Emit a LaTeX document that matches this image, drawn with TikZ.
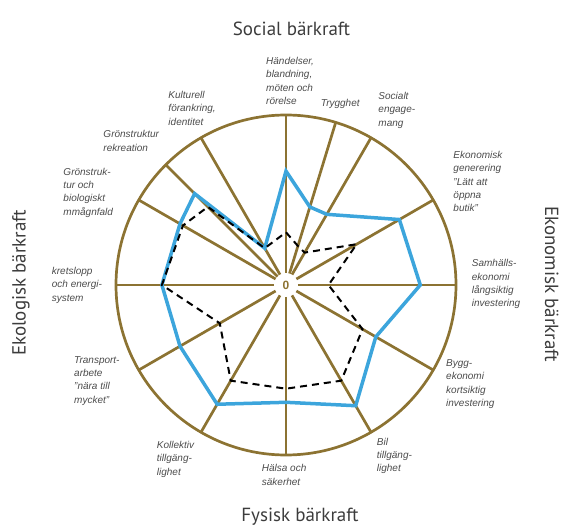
\documentclass[tikz,border=0pt]{standalone}
\usepackage{fontspec}
\setmainfont{Liberation Sans}
\newfontfamily\titelfont{PT Sans}
\definecolor{braun}{RGB}{140,115,50}
\definecolor{blau}{RGB}{60,165,220}
\definecolor{textgrau}{RGB}{75,75,75}

\begin{document}
\begin{tikzpicture}[x=1pt,y=1pt,
	speiche/.style={color=braun,line width=2.7pt},
	wert/.style={color=blau,line width=3.5pt,line join=miter},
	vergleich/.style={color=black,line width=2pt,dash pattern=on 7pt off 5pt},
	merkmal/.style={anchor=north west,inner sep=0pt,align=left,text=textgrau,font=\fontsize{10}{13.3}\selectfont\itshape},
	titel/.style={inner sep=0pt,text=textgrau!80!black,font=\titelfont\fontsize{19}{22}\selectfont}]
	\useasboundingbox (-286,-242) rectangle (277,285);
	% Kreis und Speichen zeichnen
	\draw[speiche] (0,0) circle (170);
	\foreach \w in {90,73,60,30,0,-30,-60,-90,-120,-150,180,150,135,120}
		\draw[speiche] (\w:12) -- (\w:170);
	\node[text=braun,font=\bfseries\fontsize{12}{14}\selectfont] (null) at (0,0) {0};
	% Bewertung zeichnen
	\draw[wert] (90:113.9) -- (73:81.6) -- (60:81.6) -- (30:130.9) -- (0:134.3) -- (-30:103.7) -- (-60:139.4)
		-- (-90:117.3) -- (-120:137.7) -- (-150:122.4) -- (180:124.1) -- (150:122.4) -- (135:129.2) -- (120:42.5) -- cycle;
	\draw[vergleich] (90:52.7) -- (73:40.8) -- (60:37.4) -- (30:81.6) -- (0:42.5) -- (-30:88.4) -- (-60:110.5)
		-- (-90:103.7) -- (-120:110.5) -- (-150:76.5) -- (180:124.1) -- (150:119) -- (135:110.5) -- (120:42.5) -- cycle;
	% Merkmale beschriften
	\node[merkmal] (haendelser) at (-20,227.8) {Händelser,\\blandning,\\möten och\\rörelse};
	\node[merkmal] (trygghet) at (34.7,186.2) {Trygghet};
	\node[merkmal] (socialt) at (92.3,192.8) {Socialt\\engage-\\mang};
	\node[merkmal] (generering) at (167.3,133.8) {Ekonomisk\\generering\\"Lätt att\\öppna\\butik"};
	\node[merkmal] (samhalle) at (185.7,25.5) {Samhälls-\\ekonomi\\långsiktig\\investering};
	\node[merkmal] (bygg) at (160,-74.5) {Bygg-\\ekonomi\\kortsiktig\\investering};
	\node[merkmal] (bil) at (90.7,-152.8) {Bil\\tillgäng-\\lighet};
	\node[merkmal] (halsa) at (-24.3,-179.5) {Hälsa och\\säkerhet};
	\node[merkmal] (kollektiv) at (-129.3,-156.2) {Kollektiv\\tillgäng-\\lighet};
	\node[merkmal] (transport) at (-212,-71.2) {Transport-\\arbete\\"nära till\\mycket"};
	\node[merkmal] (kretslopp) at (-234.3,17.8) {kretslopp\\och energi-\\system};
	\node[merkmal] (biologi) at (-222.7,117.2) {Grönstruk-\\tur och\\biologiskt\\mmågnfald};
	\node[merkmal] (rekreation) at (-182.7,154.5) {Grönstruktur\\rekreation};
	\node[merkmal] (kultur) at (-117.7,193.8) {Kulturell\\förankring,\\identitet};
	% Bärkraft beschriften
	\node[titel,anchor=base] (social) at (5.5,249) {Social bärkraft};
	\node[titel,anchor=base] (fysisk) at (14,-237) {Fysisk bärkraft};
	\node[titel,rotate=-90] (ekonomisk) at (265.7,1) {Ekonomisk bärkraft};
	\node[titel,rotate=90] (ekologisk) at (-265,2) {Ekologisk bärkraft};
\end{tikzpicture}
\end{document}
